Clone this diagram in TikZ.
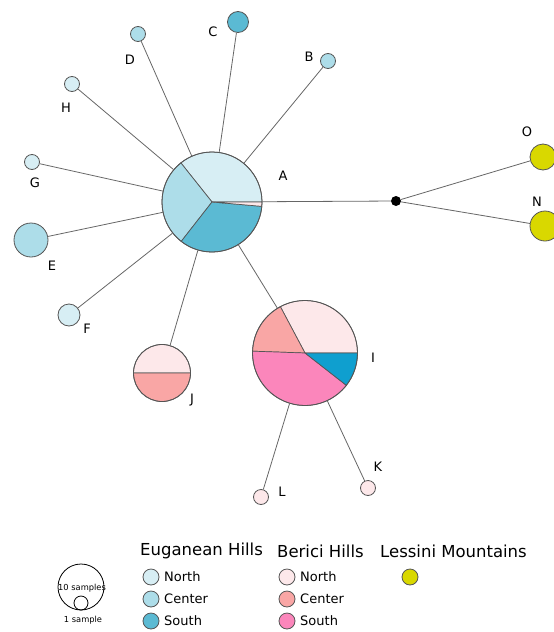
\documentclass[tikz,border=0pt]{standalone}
\usepackage{fontspec}
\setmainfont{DejaVu Sans}
\definecolor{euN}{HTML}{D7EEF4}
\definecolor{euC}{HTML}{ADDDE9}
\definecolor{euS}{HTML}{5BBAD3}
\definecolor{euSd}{HTML}{0F9FCF}
\definecolor{beN}{HTML}{FDE8EA}
\definecolor{beC}{HTML}{F9A6A5}
\definecolor{beS}{HTML}{FB86BB}
\definecolor{les}{HTML}{D9D800}
\definecolor{edgec}{HTML}{666666}
\definecolor{rimc}{HTML}{555555}
\newcommand\myslice[5]{\filldraw[fill=#5,draw=rimc,line width=0.7pt] (#1) -- ++(#2:#4) arc[start angle=#2,end angle=#3,radius=#4] -- cycle;}
\tikzset{
  hap/.style={circle,draw=rimc,line width=0.8pt,inner sep=0pt,minimum size=#1},
  lab/.style={font=\fontsize{13}{15}\selectfont,inner sep=0pt},
  head/.style={font=\fontsize{16.5}{19}\selectfont,inner sep=0pt,anchor=west},
  leg/.style={font=\fontsize{13}{15}\selectfont,inner sep=0pt,anchor=west},
  edge/.style={draw=edgec,line width=0.8pt}
}
\begin{document}
\begin{tikzpicture}[x=1pt,y=1pt]
\useasboundingbox (0,0) rectangle (554,-632);
% pie slices
\coordinate (cA) at (212,-202);
\myslice{cA}{0}{128.5}{50pt}{euN}
\myslice{cA}{128.5}{232}{50pt}{euC}
\myslice{cA}{232}{355}{50pt}{euS}
\myslice{cA}{355}{360}{50pt}{beN}
\coordinate (cI) at (305,-353);
\myslice{cI}{0}{118}{52.5pt}{beN}
\myslice{cI}{118}{178}{52.5pt}{beC}
\myslice{cI}{178}{322}{52.5pt}{beS}
\myslice{cI}{322}{360}{52.5pt}{euSd}
\coordinate (cJ) at (162,-373);
\myslice{cJ}{0}{180}{28.5pt}{beN}
\myslice{cJ}{180}{360}{28.5pt}{beC}
% nodes
\node[hap=100pt] (A) at (cA) {};
\node[hap=105pt] (I) at (cI) {};
\node[hap=57pt] (J) at (cJ) {};
\node[hap=15pt,fill=euC] (B) at (328,-61) {};
\node[hap=21pt,fill=euS] (C) at (238,-22) {};
\node[hap=15pt,fill=euC] (D) at (138,-34) {};
\node[hap=15pt,fill=euN] (H) at (72,-84) {};
\node[hap=15pt,fill=euN] (G) at (32,-162) {};
\node[hap=34pt,fill=euC] (E) at (31,-240) {};
\node[hap=22pt,fill=euN] (F) at (69,-315) {};
\node[hap=15pt,fill=beN] (L) at (261,-497) {};
\node[hap=15pt,fill=beN] (K) at (368,-488) {};
\node[hap=26pt,fill=les] (O) at (543,-157) {};
\node[hap=30pt,fill=les] (N) at (545,-226) {};
\node[circle,fill=black,inner sep=0pt,minimum size=10pt] (m) at (396,-201) {};
% edges
\foreach \t in {B,C,D,H,G,E,F,J,I,m} \draw[edge] (A) -- (\t);
\draw[edge] (I) -- (L);
\draw[edge] (I) -- (K);
\draw[edge] (m) -- (O);
\draw[edge] (m) -- (N);
% labels
\node[lab] (lA) at (283,-176) {A};
\node[lab] (lB) at (309,-57) {B};
\node[lab] (lC) at (213,-32) {C};
\node[lab] (lD) at (130,-60) {D};
\node[lab] (lH) at (66,-108) {H};
\node[lab] (lG) at (35,-183) {G};
\node[lab] (lE) at (52,-266) {E};
\node[lab] (lF) at (87,-329) {F};
\node[lab] (lI) at (373,-358) {I};
\node[lab] (lJ) at (192,-400) {J};
\node[lab] (lL) at (282,-492) {L};
\node[lab] (lK) at (378,-467) {K};
\node[lab] (lO) at (527,-132) {O};
\node[lab] (lN) at (537,-202) {N};
% legend
\node[circle,draw=black,line width=0.8pt,inner sep=0pt,minimum size=46pt] (s10) at (81,-587) {};
\node[circle,draw=black,line width=0.8pt,inner sep=0pt,minimum size=14pt] (s1) at (81,-603) {};
\node[font=\fontsize{8.3}{10}\selectfont,inner sep=0pt] (t10) at (82,-588) {10 samples};
\node[font=\fontsize{8.3}{10}\selectfont,inner sep=0pt] (t1) at (83,-620) {1 sample};
\node[head] (h1) at (140,-551) {Euganean Hills};
\node[head] (h2) at (277,-551) {Berici Hills};
\node[head] (h3) at (380,-551) {Lessini Mountains};
\node[hap=16pt,fill=euN] (le1) at (151,-577) {};
\node[hap=16pt,fill=euC] (le2) at (151,-599) {};
\node[hap=16pt,fill=euS] (le3) at (151,-621) {};
\node[leg] at (164,-577) {North};
\node[leg] at (164,-599) {Center};
\node[leg] at (164,-621) {South};
\node[hap=16pt,fill=beN] (lb1) at (287,-577) {};
\node[hap=16pt,fill=beC] (lb2) at (287,-599) {};
\node[hap=16pt,fill=beS] (lb3) at (287,-621) {};
\node[leg] at (300,-577) {North};
\node[leg] at (300,-599) {Center};
\node[leg] at (300,-621) {South};
\node[hap=16pt,fill=les] (ll) at (410,-577) {};
\end{tikzpicture}
\end{document}
